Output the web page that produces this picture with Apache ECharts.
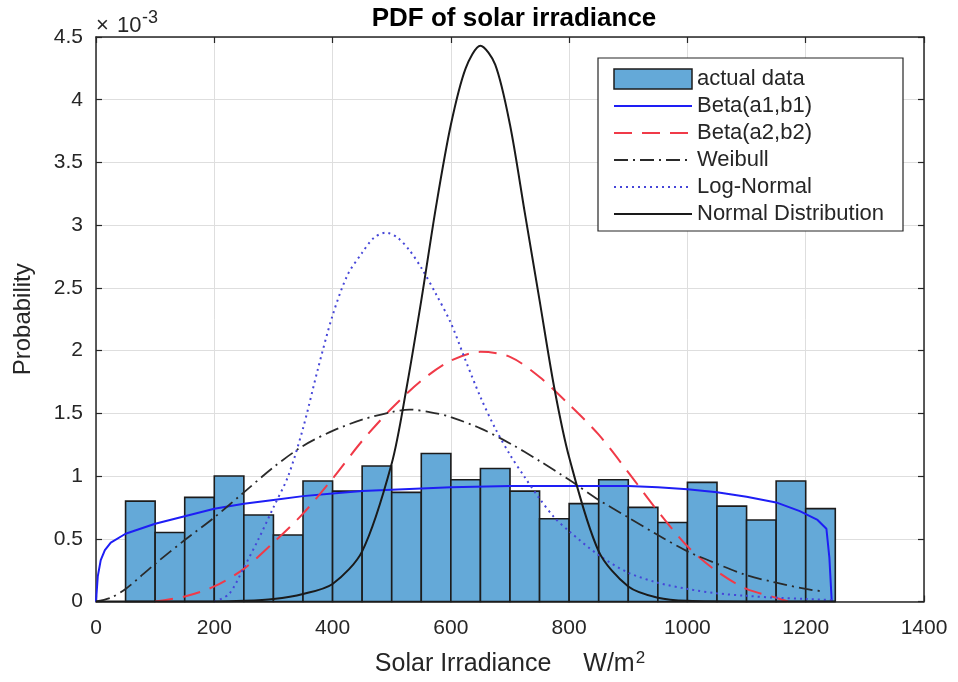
<!DOCTYPE html>
<html>
<head>
<meta charset="utf-8">
<script src="https://cdn.jsdelivr.net/npm/echarts@6/dist/echarts.min.js"></script>
<style>
  html, body { margin: 0; padding: 0; background: #fff; }
  #chart { width: 958px; height: 682px; }
</style>
</head>
<body>
<div id="chart"></div>
<script>
// Histogram of measured irradiance (bin left edges in W/m^2, density in units of 1e-3)
const binWidth = 50;
const binLeft = [50, 100, 150, 200, 250, 300, 350, 400, 450, 500, 550, 600,
                 650, 700, 750, 800, 850, 900, 950, 1000, 1050, 1100, 1150, 1200];
const binHeight = [0.80, 0.55, 0.83, 1.00, 0.69, 0.53, 0.96, 0.88, 1.08, 0.87, 1.18, 0.97,
                   1.06, 0.88, 0.66, 0.78, 0.97, 0.75, 0.63, 0.95, 0.76, 0.65, 0.96, 0.74];

// Fitted density curves (x in W/m^2, y in units of 1e-3)
const beta1X = [0, 3, 8, 15, 25, 50, 100, 150, 200, 250, 300, 350, 400, 450, 500, 550, 600,
                700, 800, 900, 950, 1000, 1050, 1100, 1150, 1190, 1220, 1235, 1240, 1244];
const beta1Y = [0, 0.20, 0.33, 0.41, 0.47, 0.54, 0.62, 0.68, 0.74, 0.78, 0.81, 0.84, 0.86, 0.88, 0.89, 0.90, 0.91,
                0.92, 0.92, 0.92, 0.91, 0.895, 0.87, 0.835, 0.79, 0.72, 0.65, 0.58, 0.35, 0];

const beta2X = [100, 150, 200, 250, 300, 350, 400, 450, 500, 550, 600, 650,
                700, 750, 800, 850, 900, 950, 1000, 1050, 1100, 1150, 1170];
const beta2Y = [0, 0.04, 0.12, 0.26, 0.47, 0.70, 0.98, 1.28, 1.54, 1.76, 1.92, 1.99,
                1.95, 1.79, 1.57, 1.33, 1.03, 0.72, 0.44, 0.24, 0.10, 0.03, 0];

const weibullX = [0, 25, 50, 100, 150, 200, 250, 300, 350, 400, 450, 500, 530, 575,
                  600, 650, 700, 750, 800, 850, 900, 950, 1000, 1050, 1100, 1150, 1200, 1230];
const weibullY = [0, 0.03, 0.10, 0.30, 0.49, 0.67, 0.87, 1.07, 1.24, 1.36, 1.45, 1.51, 1.53, 1.50,
                  1.47, 1.38, 1.26, 1.12, 0.97, 0.81, 0.67, 0.53, 0.40, 0.30, 0.21, 0.15, 0.10, 0.08];

const logNormX = [200, 225, 250, 275, 300, 325, 350, 375, 400, 425, 450, 470, 490, 510, 530, 550,
                  575, 600, 625, 650, 675, 700, 725, 750, 775, 800, 850, 900, 950, 1000,
                  1050, 1100, 1150, 1200, 1250];
const logNormY = [0, 0.06, 0.27, 0.50, 0.75, 1.00, 1.38, 1.85, 2.28, 2.60, 2.78, 2.90, 2.94, 2.90, 2.80, 2.66,
                  2.45, 2.22, 1.92, 1.63, 1.38, 1.17, 0.99, 0.82, 0.67, 0.56, 0.37, 0.23, 0.15, 0.10,
                  0.065, 0.045, 0.03, 0.02, 0.01];

const normalX = [0, 200, 250, 300, 350, 400, 450, 500, 525, 550, 575, 600, 625, 650, 675,
                 700, 725, 750, 775, 800, 850, 900, 950, 1000, 1100, 1250];
const normalY = [0, 0, 0.005, 0.02, 0.06, 0.14, 0.40, 1.10, 1.70, 2.40, 3.15, 3.80, 4.25, 4.43, 4.28,
                 3.80, 3.10, 2.40, 1.70, 1.15, 0.40, 0.12, 0.03, 0.005, 0, 0];

const xTicks = { min: 0, max: 1400, step: 200 };
const yTicks = { min: 0, max: 4.5, step: 0.5 };

const FONT = "'Liberation Sans', Arial, sans-serif";
const INK = '#262626';
const BAR_FILL = '#64a9d8';
const BAR_EDGE = '#1c1c1c';

const pairs = (xs, ys) => xs.map((x, i) => [x, ys[i]]);
const histData = binLeft.map((l, i) => [l, l + binWidth, binHeight[i]]);

const chart = echarts.init(document.getElementById('chart'), null, { renderer: 'canvas' });

const valueAxisCommon = {
  type: 'value',
  axisLine: { show: true, onZero: false, lineStyle: { color: INK, width: 1.5 } },
  axisTick: { show: true, inside: true, length: 6, lineStyle: { color: INK, width: 1.2 } }
};

// line entries in the legend show only the stroke, no marker
const lineLegendItem = name => ({
  name: name,
  itemStyle: { opacity: 0, color: 'rgba(0,0,0,0)', borderWidth: 0 }
});

chart.setOption({
  animation: false,
  backgroundColor: '#ffffff',
  title: {
    text: 'PDF of solar irradiance',
    left: 509,
    top: 1,
    textAlign: 'center',
    textStyle: { fontFamily: FONT, fontSize: 26, fontWeight: 'bold', color: '#000' }
  },
  grid: { left: 96, top: 37, right: 34, bottom: 80 },
  xAxis: [
    Object.assign({}, valueAxisCommon, {
      position: 'bottom',
      min: xTicks.min, max: xTicks.max, interval: xTicks.step,
      name: '{a|Solar Irradiance}{u|W/m}{sup|2}',
      nameLocation: 'middle',
      nameGap: 48,
      nameTextStyle: {
        fontFamily: FONT, fontSize: 25, color: INK,
        rich: {
          a: { fontFamily: FONT, fontSize: 25, color: INK },
          u: { fontFamily: FONT, fontSize: 25, color: INK, padding: [0, 0, 0, 32] },
          sup: { fontFamily: FONT, fontSize: 17, color: INK, padding: [0, 0, 13, 1] }
        }
      },
      axisLabel: { fontFamily: FONT, fontSize: 21, color: INK, margin: 16,
                   formatter: v => String(v) },
      splitLine: { show: true, lineStyle: { color: '#dedede', width: 1 } }
    }),
    Object.assign({}, valueAxisCommon, {
      position: 'top',
      min: xTicks.min, max: xTicks.max, interval: xTicks.step,
      axisLabel: { show: false },
      splitLine: { show: false }
    })
  ],
  yAxis: [
    Object.assign({}, valueAxisCommon, {
      position: 'left',
      min: yTicks.min, max: yTicks.max, interval: yTicks.step,
      name: 'Probability',
      nameLocation: 'middle',
      nameGap: 61,
      nameRotate: 90,
      nameTextStyle: { fontFamily: FONT, fontSize: 24, color: INK },
      axisLabel: { fontFamily: FONT, fontSize: 21, color: INK, margin: 13,
                   formatter: v => String(v) },
      splitLine: { show: true, lineStyle: { color: '#dedede', width: 1 } }
    }),
    Object.assign({}, valueAxisCommon, {
      position: 'right',
      min: yTicks.min, max: yTicks.max, interval: yTicks.step,
      axisLabel: { show: false },
      splitLine: { show: false }
    })
  ],
  legend: {
    orient: 'vertical',
    left: 613,
    top: 68,
    padding: 0,
    itemWidth: 78,
    itemHeight: 20,
    itemGap: 5,
    z: 10,
    textStyle: { fontFamily: FONT, fontSize: 22, color: INK },
    data: [
      { name: 'actual data', icon: 'rect',
        itemStyle: { color: BAR_FILL, borderColor: BAR_EDGE, borderWidth: 1.5, opacity: 1 } },
      lineLegendItem('Beta(a1,b1)'),
      lineLegendItem('Beta(a2,b2)'),
      lineLegendItem('Weibull'),
      lineLegendItem('Log-Normal'),
      lineLegendItem('Normal Distribution')
    ]
  },
  graphic: [
    {
      type: 'rect',
      z: 9,
      shape: { x: 598, y: 58, width: 305, height: 173 },
      style: { fill: '#ffffff', stroke: INK, lineWidth: 1.2 }
    },
    {
      type: 'text',
      x: 96, y: 15,
      style: { text: '\u00d7', fontFamily: FONT, fontSize: 22, fill: INK }
    },
    {
      type: 'text',
      x: 117, y: 15,
      style: { text: '10', fontFamily: FONT, fontSize: 22, fill: INK }
    },
    {
      type: 'text',
      x: 142, y: 9,
      style: { text: '-3', fontFamily: FONT, fontSize: 18, fill: INK }
    }
  ],
  series: [
    {
      name: 'actual data',
      type: 'custom',
      encode: { x: [0, 1], y: 2 },
      itemStyle: { color: BAR_FILL, borderColor: BAR_EDGE, borderWidth: 1.5 },
      renderItem: function (params, api) {
        const p0 = api.coord([api.value(0), 0]);
        const p1 = api.coord([api.value(1), api.value(2)]);
        return {
          type: 'rect',
          shape: { x: p0[0], y: p1[1], width: p1[0] - p0[0], height: p0[1] - p1[1] },
          style: { fill: BAR_FILL, stroke: BAR_EDGE, lineWidth: 1.6 }
        };
      },
      data: histData,
      z: 1
    },
    {
      name: 'Beta(a1,b1)',
      type: 'line',
      data: pairs(beta1X, beta1Y),
      symbol: 'none',
      smooth: false,
      lineStyle: { color: '#1e1ef5', width: 2, type: 'solid' },
      itemStyle: { color: '#1e1ef5' },
      z: 3
    },
    {
      name: 'Beta(a2,b2)',
      type: 'line',
      data: pairs(beta2X, beta2Y),
      symbol: 'none',
      smooth: 0.3,
      lineStyle: { color: '#f03a48', width: 2, type: [18, 10] },
      itemStyle: { color: '#f03a48' },
      z: 3
    },
    {
      name: 'Weibull',
      type: 'line',
      data: pairs(weibullX, weibullY),
      symbol: 'none',
      smooth: 0.3,
      lineStyle: { color: '#2a2a2a', width: 1.8, type: [14, 5, 2, 5] },
      itemStyle: { color: '#2a2a2a' },
      z: 3
    },
    {
      name: 'Log-Normal',
      type: 'line',
      data: pairs(logNormX, logNormY),
      symbol: 'none',
      smooth: 0.3,
      lineStyle: { color: '#4646d8', width: 2, type: [2, 4] },
      itemStyle: { color: '#4646d8' },
      z: 3
    },
    {
      name: 'Normal Distribution',
      type: 'line',
      data: pairs(normalX, normalY),
      symbol: 'none',
      smooth: 0.3,
      lineStyle: { color: '#1a1a1a', width: 2, type: 'solid' },
      itemStyle: { color: '#1a1a1a' },
      z: 3
    }
  ]
});
</script>
</body>
</html>
